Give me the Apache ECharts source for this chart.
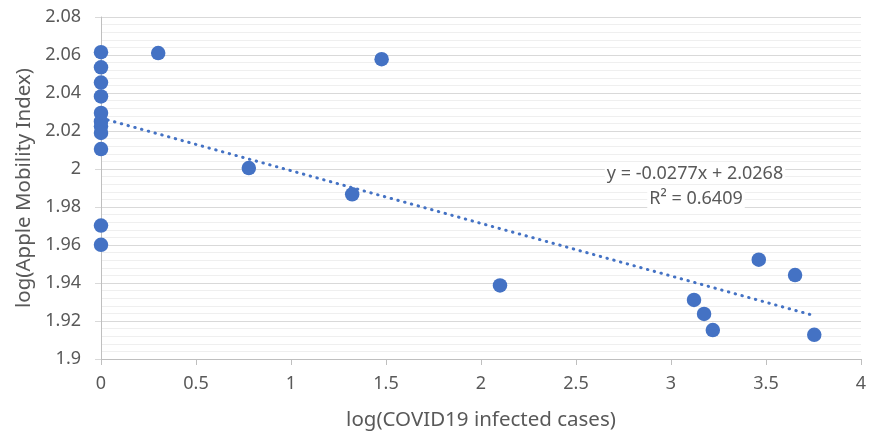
<!DOCTYPE html>
<html><head><meta charset="utf-8">
<script src="https://cdn.jsdelivr.net/npm/echarts@6/dist/echarts.min.js"></script>
<style>html,body{margin:0;padding:0;background:#fff}#c{width:869px;height:433px}</style>
</head><body><div id="c"></div>
<script>
var xValues = [0, 0, 0, 0, 0, 0, 0, 0, 0, 0, 0, 0.301, 1.477, 0.778, 1.322, 2.1, 3.462, 3.653, 3.121, 3.174, 3.22, 3.754];
var yValues = [2.0615, 2.0535, 2.0455, 2.0382, 2.0295, 2.025, 2.0225, 2.019, 2.0105, 1.9702, 1.9601, 2.061, 2.0578, 2.0005, 1.9867, 1.9387, 1.9523, 1.9442, 1.9311, 1.9237, 1.9152, 1.9127];
var trendSlope = [-0.0277];
var trendIntercept = [2.0268];
var trendText = ["y = -0.0277x + 2.0268", "R\u00b2 = 0.6409"];
var xTitle = "log(COVID19 infected cases)";
var yTitle = "log(Apple Mobility Index)";

var pts = xValues.map(function(x, i){ return [x, yValues[i]]; });
var xmin = Math.min.apply(null, xValues), xmax = Math.max.apply(null, xValues);
var trend = [[xmin, trendIntercept[0] + trendSlope[0]*xmin], [xmax, trendIntercept[0] + trendSlope[0]*xmax]];

var FONT = 'Noto Sans';
var chart = echarts.init(document.getElementById('c'), null, {renderer:'canvas'});
chart.setOption({
  animation:false,
  backgroundColor:'#fff',
  grid:{left:101, right:8, top:17, bottom:74, containLabel:false, outerBoundsMode:'none'},
  xAxis:{type:'value', min:0, max:4, interval:0.5,
    name:xTitle, nameLocation:'middle', nameGap:51,
    nameTextStyle:{fontFamily:FONT, fontSize:20.5, color:'#595959'},
    axisLine:{show:true, lineStyle:{color:'#bfbfbf', width:1}},
    axisTick:{show:true, length:6, lineStyle:{color:'#bfbfbf'}},
    axisLabel:{fontFamily:FONT, fontSize:18, color:'#595959', margin:16},
    splitLine:{show:false}},
  yAxis:{type:'value', min:1.9, max:2.08, interval:0.02,
    name:yTitle, nameLocation:'middle', nameGap:62, nameRotate:90,
    nameTextStyle:{fontFamily:FONT, fontSize:20.5, color:'#595959'},
    axisLine:{show:true, lineStyle:{color:'#bfbfbf', width:1}},
    axisTick:{show:true, length:6, lineStyle:{color:'#d9d9d9'}},
    axisLabel:{fontFamily:FONT, fontSize:18, color:'#595959', margin:20},
    splitLine:{show:true, lineStyle:{color:'#d9d9d9', width:1}},
    minorTick:{show:false, splitNumber:5},
    minorSplitLine:{show:true, lineStyle:{color:'#efefef', width:1}}},
  series:[
    {type:'scatter', data:pts, symbol:'circle', symbolSize:14.5,
     itemStyle:{color:'#4472C4', opacity:1}, z:2},
    {type:'line', data:trend, symbol:'none', z:3,
     lineStyle:{color:'#4472C4', width:3, type:[0.5,6.5], cap:'round'}}
  ],
  graphic:[
    {type:'text', x:695, y:174, z:10, style:{text:trendText[0], fontFamily:FONT, fontSize:18, fill:'#595959', align:'center', verticalAlign:'middle', backgroundColor:'#fff', padding:[0,2]}},
    {type:'text', x:696, y:199, z:10, style:{text:trendText[1], fontFamily:FONT, fontSize:18, fill:'#595959', align:'center', verticalAlign:'middle', backgroundColor:'#fff', padding:[0,2]}}
  ]
});
</script></body></html>
